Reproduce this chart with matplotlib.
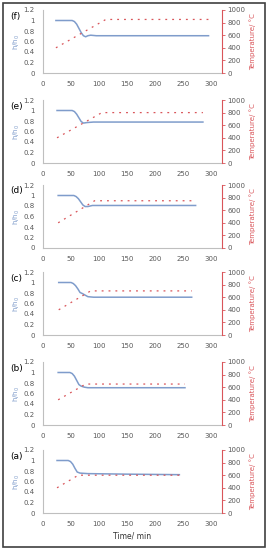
import matplotlib
matplotlib.use('Agg')
import matplotlib.pyplot as plt
from matplotlib.patches import Rectangle

labels = ['(f)', '(e)', '(d)', '(c)', '(b)', '(a)']

# h/h0 curves (time, value)
h_time = [
    [23, 40, 52, 56, 60, 64, 68, 72, 76, 80, 85, 95, 150, 295],
    [25, 40, 52, 56, 60, 64, 68, 72, 78, 90, 150, 285],
    [27, 45, 55, 59, 63, 67, 71, 75, 80, 88, 150, 272],
    [28, 40, 50, 54, 58, 62, 66, 70, 75, 80, 90, 150, 265],
    [27, 40, 48, 52, 56, 60, 64, 68, 74, 80, 150, 253],
    [25, 38, 45, 49, 53, 57, 61, 66, 80, 150, 243],
]
h_value = [
    [1.0, 1.0, 1.0, 0.98, 0.93, 0.85, 0.77, 0.71, 0.69, 0.71, 0.72, 0.71, 0.71, 0.71],
    [1.0, 1.0, 1.0, 0.98, 0.93, 0.86, 0.79, 0.76, 0.77, 0.78, 0.78, 0.78],
    [1.0, 1.0, 1.0, 0.98, 0.94, 0.88, 0.82, 0.79, 0.79, 0.81, 0.81, 0.81],
    [1.0, 1.0, 1.0, 0.98, 0.94, 0.88, 0.81, 0.79, 0.76, 0.73, 0.72, 0.72, 0.72],
    [1.0, 1.0, 1.0, 0.98, 0.93, 0.85, 0.77, 0.74, 0.72, 0.71, 0.71, 0.71],
    [1.0, 1.0, 1.0, 0.98, 0.93, 0.85, 0.78, 0.76, 0.75, 0.74, 0.73],
]

# temperature programmes (time, temperature)
t_time = [
    [23, 112, 295],
    [25, 105, 285],
    [27, 92, 272],
    [28, 85, 265],
    [27, 76, 253],
    [25, 63, 243],
]
t_value = [
    [400, 850, 850],
    [400, 800, 800],
    [400, 750, 750],
    [400, 700, 700],
    [400, 650, 650],
    [400, 600, 600],
]

x_ticks = [0, 50, 100, 150, 200, 250, 300]
h_ticks = [0, 0.2, 0.4, 0.6, 0.8, 1, 1.2]
h_tick_labels = ['0', '0.2', '0.4', '0.6', '0.8', '1', '1.2']
t_ticks = [0, 200, 400, 600, 800, 1000]

W, H = 268, 550
blue = '#7f9ccb'
red = '#d9555a'
grey = '#595959'

fig = plt.figure(figsize=(W / 100, H / 100), dpi=100)
fig.patch.set_facecolor('white')

tops = [10, 100, 185, 272, 362, 450]
height = 63
left, right = 43, 222

for i, lab in enumerate(labels):
    bottom = tops[i] + height
    ax = fig.add_axes([left / W, 1 - bottom / H, (right - left) / W, height / H])
    ax.plot(h_time[i], h_value[i], color=blue, lw=1.1)
    ax.set_xlim(0, 319)
    ax.set_ylim(0, 1.2)
    ax.set_xticks(x_ticks)
    ax.set_yticks(h_ticks)
    ax.set_yticklabels(h_tick_labels)
    for s in ['top', 'right']:
        ax.spines[s].set_visible(False)
    for s in ['left', 'bottom']:
        ax.spines[s].set_color('#bfbfbf')
        ax.spines[s].set_linewidth(0.8)
    ax.tick_params(axis='both', length=0, labelsize=5, colors=grey, pad=6)
    ax.set_ylabel('h/h$_0$', fontsize=5, color=blue, labelpad=1)

    ax2 = ax.twinx()
    ax2.plot(t_time[i], t_value[i], color=red, lw=0.9, linestyle=(0, (1.5, 4)))
    ax2.set_ylim(0, 1000)
    ax2.set_yticks(t_ticks)
    for s in ['top', 'left', 'bottom']:
        ax2.spines[s].set_visible(False)
    ax2.spines['right'].set_color(red)
    ax2.spines['right'].set_linewidth(0.8)
    ax2.tick_params(axis='y', length=2, width=0.6, colors=red, labelsize=5, pad=2)
    for t in ax2.get_yticklabels():
        t.set_color(grey)
    ax2.set_ylabel('Temperature/ °C', fontsize=5, color=red, labelpad=3)

    fig.text(10 / W, 1 - (tops[i] + 6) / H, lab, fontsize=6.5, ha='left', va='center')

    if i == len(labels) - 1:
        ax.set_xlabel('Time/ min', fontsize=5.5, color='#333333', labelpad=3)

fig.patches.append(Rectangle((3 / W, 3 / H), 262 / W, 544 / H, transform=fig.transFigure,
                             fill=False, edgecolor='#404040', linewidth=1.2))

fig.savefig('out.png', dpi=100)
